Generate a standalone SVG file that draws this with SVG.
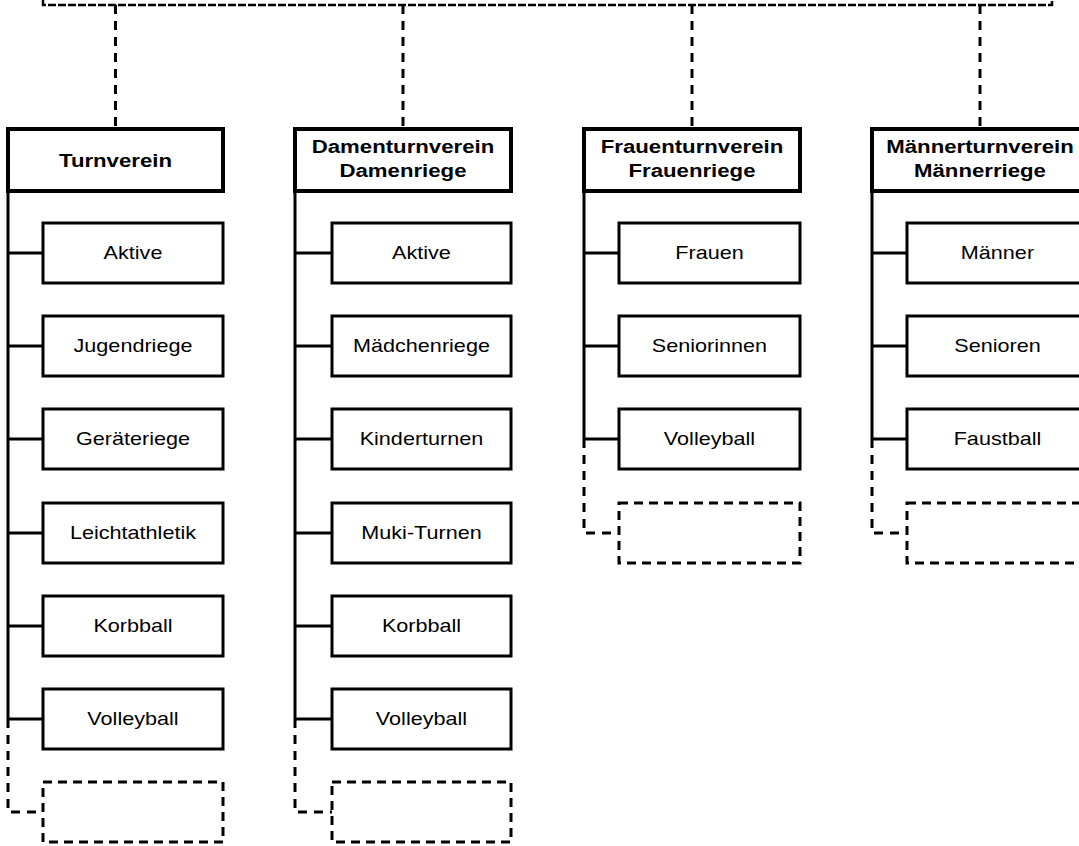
<svg xmlns="http://www.w3.org/2000/svg" width="1079" height="846" viewBox="0 0 1079 846">
<style>
.hdr{fill:#fff;stroke:#000;stroke-width:4}
.box{fill:#fff;stroke:#000;stroke-width:3}
.dbox{fill:none;stroke:#000;stroke-width:3;stroke-dasharray:9 6}
.solid{fill:none;stroke:#000;stroke-width:3}
.dash{fill:none;stroke:#000;stroke-width:3;stroke-dasharray:9 7}
.top{fill:none;stroke:#000;stroke-width:2.5;stroke-dasharray:8 2}
text{font-family:"Liberation Sans",Arial,sans-serif;text-anchor:middle;fill:#000;transform-box:fill-box;transform-origin:center;transform:scaleX(1.2)}
.t{font-size:18px}
.h{font-size:18.5px;font-weight:bold}
</style>
<rect width="1079" height="846" fill="#fff"/>
<g id="connectors">
<path class="top" d="M43,0 V5 H1052 V0"/>
<path class="dash" d="M115.5,5 V127 M403,5 V127 M692,5 V127 M980,5 V127"/>
<path class="solid" d="M8,193 V719 M8,253 H43 M8,346 H43 M8,439 H43 M8,533 H43 M8,626 H43 M8,719 H43"/>
<path class="dash" d="M8,719 V812 H43"/>
<path class="solid" d="M295,193 V719 M295,253 H332 M295,346 H332 M295,439 H332 M295,533 H332 M295,626 H332 M295,719 H332"/>
<path class="dash" d="M295,719 V812 H332"/>
<path class="solid" d="M584,193 V439 M584,253 H619 M584,346 H619 M584,439 H619"/>
<path class="dash" d="M584,439 V533 H619"/>
<path class="solid" d="M872,193 V439 M872,253 H907 M872,346 H907 M872,439 H907"/>
<path class="dash" d="M872,439 V533 H907"/>
</g>
<g id="turnverein"><rect class="hdr" x="8" y="129" width="215" height="62"/><text class="h" x="115.5" y="167">Turnverein</text></g>
<g id="tv-aktive"><rect class="box" x="43" y="223" width="180" height="60"/><text class="t" x="133" y="259.5">Aktive</text></g>
<g id="tv-jugendriege"><rect class="box" x="43" y="316" width="180" height="60"/><text class="t" x="133" y="352.5">Jugendriege</text></g>
<g id="tv-geraeteriege"><rect class="box" x="43" y="409" width="180" height="60"/><text class="t" x="133" y="445.5">Geräteriege</text></g>
<g id="tv-leichtathletik"><rect class="box" x="43" y="503" width="180" height="60"/><text class="t" x="133" y="539.5">Leichtathletik</text></g>
<g id="tv-korbball"><rect class="box" x="43" y="596" width="180" height="60"/><text class="t" x="133" y="632.5">Korbball</text></g>
<g id="tv-volleyball"><rect class="box" x="43" y="689" width="180" height="60"/><text class="t" x="133" y="725.5">Volleyball</text></g>
<g id="tv-empty"><rect class="dbox" x="43" y="782" width="180" height="60"/></g>
<g id="damenturnverein"><rect class="hdr" x="295" y="129" width="216" height="62"/><text class="h" x="403" y="153">Damenturnverein</text><text class="h" x="403" y="177">Damenriege</text></g>
<g id="dtv-aktive"><rect class="box" x="332" y="223" width="179" height="60"/><text class="t" x="421.5" y="259.5">Aktive</text></g>
<g id="dtv-maedchenriege"><rect class="box" x="332" y="316" width="179" height="60"/><text class="t" x="421.5" y="352.5">Mädchenriege</text></g>
<g id="dtv-kinderturnen"><rect class="box" x="332" y="409" width="179" height="60"/><text class="t" x="421.5" y="445.5">Kinderturnen</text></g>
<g id="dtv-mukiturnen"><rect class="box" x="332" y="503" width="179" height="60"/><text class="t" x="421.5" y="539.5">Muki-Turnen</text></g>
<g id="dtv-korbball"><rect class="box" x="332" y="596" width="179" height="60"/><text class="t" x="421.5" y="632.5">Korbball</text></g>
<g id="dtv-volleyball"><rect class="box" x="332" y="689" width="179" height="60"/><text class="t" x="421.5" y="725.5">Volleyball</text></g>
<g id="dtv-empty"><rect class="dbox" x="332" y="782" width="179" height="60"/></g>
<g id="frauenturnverein"><rect class="hdr" x="584" y="129" width="216" height="62"/><text class="h" x="692" y="153">Frauenturnverein</text><text class="h" x="692" y="177">Frauenriege</text></g>
<g id="ftv-frauen"><rect class="box" x="619" y="223" width="181" height="60"/><text class="t" x="709.5" y="259.5">Frauen</text></g>
<g id="ftv-seniorinnen"><rect class="box" x="619" y="316" width="181" height="60"/><text class="t" x="709.5" y="352.5">Seniorinnen</text></g>
<g id="ftv-volleyball"><rect class="box" x="619" y="409" width="181" height="60"/><text class="t" x="709.5" y="445.5">Volleyball</text></g>
<g id="ftv-empty"><rect class="dbox" x="619" y="503" width="181" height="60"/></g>
<g id="maennerturnverein"><rect class="hdr" x="872" y="129" width="216" height="62"/><text class="h" x="980" y="153">Männerturnverein</text><text class="h" x="980" y="177">Männerriege</text></g>
<g id="mtv-maenner"><rect class="box" x="907" y="223" width="181" height="60"/><text class="t" x="997.5" y="259.5">Männer</text></g>
<g id="mtv-senioren"><rect class="box" x="907" y="316" width="181" height="60"/><text class="t" x="997.5" y="352.5">Senioren</text></g>
<g id="mtv-faustball"><rect class="box" x="907" y="409" width="181" height="60"/><text class="t" x="997.5" y="445.5">Faustball</text></g>
<g id="mtv-empty"><rect class="dbox" x="907" y="503" width="181" height="60"/></g>
</svg>
